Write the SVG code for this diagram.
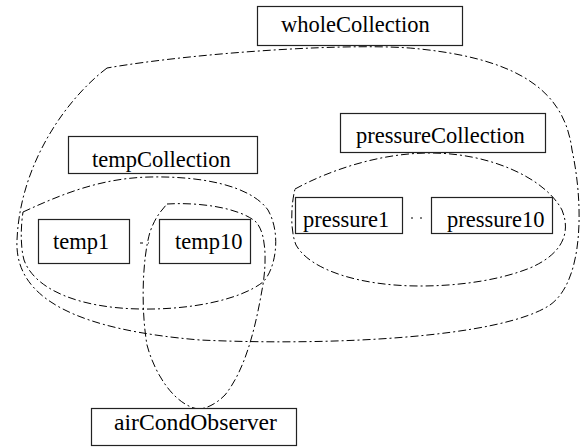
<svg xmlns="http://www.w3.org/2000/svg" width="587" height="447" viewBox="0 0 587 447">
<style>
.hull{fill:none;stroke:#000;stroke-width:1;stroke-dasharray:8,3,2,3}
.box{fill:#fff;stroke:#222;stroke-width:1.2}
.lbl{font-family:"Liberation Serif","Times New Roman",serif;font-size:22.5px;fill:#000}
.dot{fill:none;stroke:#000;stroke-width:1}
</style>
<rect width="587" height="447" fill="#fff"/>
<g id="collections">
<path id="hull-whole" class="hull" d="M107,68 C65,100 20,165 17,240 C14,300 80,330 200,340 C330,346 500,338 550,305 C585,280 583,200 572,150 C565,95 525,60 420,49 C360,42 200,52 107,68 Z"/>
<path id="hull-temp" class="hull" d="M23,212 C60,195 100,178 150,177 C200,176 250,185 268,210 C282,235 275,270 263,282 C240,300 190,310 140,309 C80,308 35,290 24,260 C20,245 21,225 23,212 Z"/>
<path id="hull-pressure" class="hull" d="M295,189 C330,170 380,153 430,153 C490,153 545,178 562,210 C572,235 560,255 530,268 C500,280 460,286 420,286 C360,286 310,270 296,245 C290,230 291,205 295,189 Z"/>
<path id="hull-aircond" class="hull" d="M167,204 C200,202 240,208 256,222 C268,235 266,270 262,290 C255,330 245,370 225,395 C215,405 205,409 198,409 C175,405 155,375 147,345 C141,310 142,260 150,232 C155,218 160,212 167,204 Z"/>
</g>
<g id="connectors">
<line class="dot" x1="140" y1="243" x2="149" y2="243" stroke-dasharray="3,5,1,5"/>
<line class="dot" x1="411" y1="218" x2="424" y2="218" stroke-dasharray="2,7"/>
</g>
<g id="wholeCollection"><rect class="box" x="257.5" y="6.5" width="205" height="39"/><text class="lbl" x="281" y="32">wholeCollection</text></g>
<g id="pressureCollection"><rect class="box" x="340.5" y="113.5" width="205" height="39"/><text class="lbl" x="356" y="143">pressureCollection</text></g>
<g id="tempCollection"><rect class="box" x="68.5" y="136.5" width="189" height="37"/><text class="lbl" x="92" y="167">tempCollection</text></g>
<g id="temp1"><rect class="box" x="38.5" y="219.5" width="91" height="44"/><text class="lbl" x="53" y="249">temp1</text></g>
<g id="temp10"><rect class="box" x="159.5" y="219.5" width="91" height="44"/><text class="lbl" x="175" y="249">temp10</text></g>
<g id="pressure1"><rect class="box" x="295.5" y="197.5" width="107" height="36"/><text class="lbl" x="303" y="227">pressure1</text></g>
<g id="pressure10"><rect class="box" x="431.5" y="197.5" width="121" height="36"/><text class="lbl" x="447" y="227">pressure10</text></g>
<g id="airCondObserver"><rect class="box" x="91.5" y="408.5" width="205" height="37"/><text class="lbl" x="114" y="430" textLength="163" lengthAdjust="spacingAndGlyphs">airCondObserver</text></g>
</svg>
